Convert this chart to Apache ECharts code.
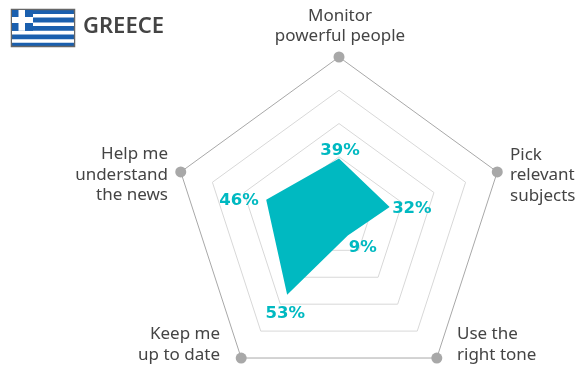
<!DOCTYPE html>
<html><head><meta charset="utf-8">
<style>html,body{margin:0;padding:0;background:#fff}#c{width:585px;height:367px}</style>
<script src="https://cdn.jsdelivr.net/npm/echarts@6/dist/echarts.min.js"></script>
</head><body><div id="c"></div>
<script>
// Order follows ECharts radar direction: top, then counter-clockwise
const categories = ['Monitor\npowerful people','Help me\nunderstand\nthe news','Keep me\nup to date','Use the\nright tone','Pick\nrelevant\nsubjects'];
const values = [39,46,53,9,32];
const outerDots = [100,100,100,100,100];
const maxValue = 100;
const title = 'GREECE';
const TEAL = '#00b9c1', INK = '#444444';
const FONT = '"Noto Sans", sans-serif';
const VALFONT = '"DejaVu Sans", sans-serif';

const labelOffsets = [[1,3],[-5,1],[-2,8],[15,1],[0,2]];
const labelPositions = ['top','left','bottom','bottom','right'];
const cx = 339, cy = 223.4;
const namePlace = [
  {x:340,y:5.5,align:'center'},
  {x:168,y:144,align:'right'},
  {x:220,y:324,align:'right'},
  {x:457,y:324,align:'left'},
  {x:510,y:144.5,align:'left'}
];

const labelSeries = values.map((v,i)=>({
  type:'radar', silent:true, z:5,
  symbol:'circle', symbolSize:1,
  itemStyle:{color:'transparent'}, lineStyle:{width:0,color:'transparent'},
  data:[{value:values, label:{
    show:true, position:labelPositions[i], distance:2, offset:labelOffsets[i],
    color:TEAL, fontFamily:VALFONT, fontWeight:'bold', fontSize:16.5,
    formatter:p=> p.dimensionIndex===i ? v+'%' : ''
  }}]
}));

const chart = echarts.init(document.getElementById('c'),null,{renderer:'canvas'});
const graphics = [
  {type:'rect',shape:{x:11.5,y:9.5,width:63,height:37},style:{fill:'#1a5fae',stroke:'#666',lineWidth:1.5}},
  ...[0,1,2,3].map(k=>({type:'rect',shape:{x:k<2?33:12,y:14+k*8.4,width:k<2?41:62,height:3.6},style:{fill:'#fff'}})),
  {type:'rect',shape:{x:12,y:10,width:21,height:20.8},style:{fill:'#1a5fae'}},
  {type:'rect',shape:{x:18.5,y:10,width:6.5,height:20.8},style:{fill:'#fff'}},
  {type:'rect',shape:{x:12,y:17,width:21,height:6},style:{fill:'#fff'}},
  {type:'text',x:83,y:15.5,style:{text:title,fill:INK,font:'600 22px '+FONT}},
  ...categories.map((c,i)=>({type:'text',x:namePlace[i].x,y:namePlace[i].y,style:{
    text:c,fill:INK,align:namePlace[i].align,verticalAlign:'top',font:'17px '+FONT,lineHeight:20.5}}))
];
chart.setOption({
  animation:false,
  radar:{
    center:[cx,cy], radius:166.4, startAngle:90, splitNumber:5, shape:'polygon',
    indicator:categories.map(c=>({name:c,min:0,max:maxValue})),
    axisName:{show:false},
    axisLine:{show:false}, axisTick:{show:false}, splitArea:{show:false},
    splitLine:{lineStyle:{color:['#a8a8a8','#d8d8d8','#d8d8d8','#d8d8d8','#d8d8d8'],width:1}}
  },
  series:[
    {type:'radar',silent:true,symbol:'circle',symbolSize:11,
     itemStyle:{color:'#a8a8a8'},lineStyle:{width:0,color:'transparent'},
     data:[{value:outerDots}]},
    {type:'radar',silent:true,symbol:'none',z:3,
     lineStyle:{width:0,color:TEAL},areaStyle:{color:TEAL,opacity:1},itemStyle:{color:TEAL},
     data:[{value:values}]},
    ...labelSeries
  ],
  graphic:graphics
});
</script></body></html>
